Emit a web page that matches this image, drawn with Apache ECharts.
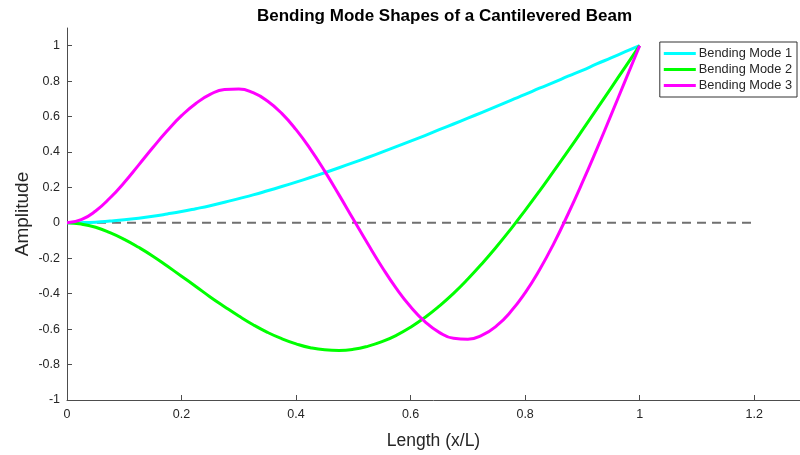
<!DOCTYPE html>
<html>
<head>
<meta charset="utf-8">
<script src="https://cdn.jsdelivr.net/npm/echarts@6/dist/echarts.min.js"></script>
<style>
html,body{margin:0;padding:0;background:#fff;}
#chart{width:800px;height:455px;}
</style>
</head>
<body>
<div id="chart"></div>
<script>
// Data read (estimated) from the reference picture
const xs = [0, 0.025, 0.05, 0.075, 0.1, 0.125, 0.15, 0.175, 0.2, 0.225, 0.25, 0.275, 0.3, 0.325, 0.35, 0.375, 0.4, 0.425, 0.45, 0.475, 0.5,
            0.525, 0.55, 0.575, 0.6, 0.625, 0.65, 0.675, 0.7, 0.725, 0.75, 0.775, 0.8, 0.825, 0.85, 0.875, 0.9, 0.925, 0.95, 0.975, 1.0];
const mode1 = [0, 0.001, 0.004, 0.010, 0.017, 0.026, 0.037, 0.050, 0.064, 0.080, 0.097, 0.116, 0.137, 0.158, 0.181, 0.205, 0.230, 0.256, 0.283, 0.311, 0.340,
               0.369, 0.399, 0.430, 0.461, 0.493, 0.526, 0.558, 0.591, 0.624, 0.658, 0.692, 0.725, 0.760, 0.793, 0.828, 0.861, 0.897, 0.931, 0.966, 1.0];
const mode2 = [0, -0.007, -0.025, -0.055, -0.093, -0.138, -0.188, -0.244, -0.301, -0.359, -0.418, -0.473, -0.526, -0.575, -0.618, -0.654, -0.683, -0.705, -0.717, -0.720, -0.714,
               -0.697, -0.671, -0.635, -0.589, -0.534, -0.470, -0.398, -0.317, -0.229, -0.135, -0.035, 0.070, 0.179, 0.292, 0.406, 0.523, 0.642, 0.761, 0.881, 1.0];
const mode3 = [0, 0.018, 0.067, 0.140, 0.228, 0.326, 0.425, 0.520, 0.605, 0.674, 0.725, 0.753, 0.756, 0.735, 0.688, 0.618, 0.526, 0.416, 0.292, 0.158, 0.020,
               -0.117, -0.249, -0.370, -0.474, -0.558, -0.618, -0.652, -0.657, -0.634, -0.582, -0.501, -0.395, -0.266, -0.117, 0.050, 0.228, 0.415, 0.608, 0.804, 1.0];
const seriesNames = ['Bending Mode 1', 'Bending Mode 2', 'Bending Mode 3'];
const zeroLineX = [0, 1.2];
const zeroLineY = [0, 0];
const xTicks = [0, 0.2, 0.4, 0.6, 0.8, 1.0, 1.2];
const yTicks = [-1, -0.8, -0.6, -0.4, -0.2, 0, 0.2, 0.4, 0.6, 0.8, 1];

const pair = (xArr, yArr) => xArr.map((x, i) => [x, yArr[i]]);
const fmt = v => String(Math.round(v * 100) / 100);

const chart = echarts.init(document.getElementById('chart'), null, {renderer: 'canvas'});
const axisColor = '#4d4d4d';
const textColor = '#262626';
const font = 'Arial, "Liberation Sans", Helvetica, sans-serif';

chart.setOption({
  animation: false,
  backgroundColor: '#ffffff',
  title: {
    text: 'Bending Mode Shapes of a Cantilevered Beam',
    left: 252, top: 3,
    textStyle: {fontFamily: font, fontSize: 17, fontWeight: 'bold', color: '#000'}
  },
  legend: {
    data: seriesNames,
    orient: 'vertical',
    right: 3, top: 42,
    padding: [5, 5, 5, 4],
    itemGap: 3,
    itemWidth: 32, itemHeight: 3,
    icon: 'rect',
    borderColor: '#333', borderWidth: 1,
    backgroundColor: '#fff',
    textStyle: {fontFamily: font, fontSize: 12.8, color: textColor, padding: [0,0,0,-2]}
  },
  grid: {left: 67, right: 0, top: 28, bottom: 55, outerBoundsMode: 'none', containLabel: false},
  xAxis: {
    type: 'value', min: 0, max: 1.28, interval: 0.2,
    name: 'Length (x/L)', nameLocation: 'middle', nameGap: 32, nameMoveOverlap: false,
    nameTextStyle: {fontFamily: font, fontSize: 17.5, color: textColor},
    axisLine: {onZero: false, lineStyle: {color: axisColor, width: 1}},
    axisTick: {inside: true, length: 5, customValues: xTicks, lineStyle: {color: axisColor}},
    axisLabel: {customValues: xTicks, formatter: fmt, fontFamily: font, fontSize: 12.5, color: textColor, margin: 8},
    splitLine: {show: false}
  },
  yAxis: {
    type: 'value', min: -1, max: 1.1, interval: 0.2,
    name: 'Amplitude', nameLocation: 'middle', nameGap: 35, nameRotate: 90, nameMoveOverlap: false,
    nameTextStyle: {fontFamily: font, fontSize: 19, color: textColor},
    axisLine: {onZero: false, lineStyle: {color: axisColor, width: 1}},
    axisTick: {inside: true, length: 5, customValues: yTicks, lineStyle: {color: axisColor}},
    axisLabel: {customValues: yTicks, formatter: fmt, fontFamily: font, fontSize: 12.5, color: textColor, margin: 7},
    splitLine: {show: false}
  },
  series: [
    {
      name: 'zero', type: 'line', data: pair(zeroLineX, zeroLineY), symbol: 'none', silent: true,
      lineStyle: {color: '#707070', width: 2, type: [9, 6]}, z: 1
    },
    {
      name: seriesNames[0], type: 'line', data: pair(xs, mode1), symbol: 'none', smooth: 0.5,
      lineStyle: {color: '#00ffff', width: 3, join: 'round'}, itemStyle: {color: '#00ffff'}, z: 2
    },
    {
      name: seriesNames[1], type: 'line', data: pair(xs, mode2), symbol: 'none', smooth: 0.5,
      lineStyle: {color: '#00ff00', width: 3, join: 'round'}, itemStyle: {color: '#00ff00'}, z: 3
    },
    {
      name: seriesNames[2], type: 'line', data: pair(xs, mode3), symbol: 'none', smooth: 0.5,
      lineStyle: {color: '#ff00ff', width: 3, join: 'round'}, itemStyle: {color: '#ff00ff'}, z: 4
    }
  ]
});
</script>
</body>
</html>
